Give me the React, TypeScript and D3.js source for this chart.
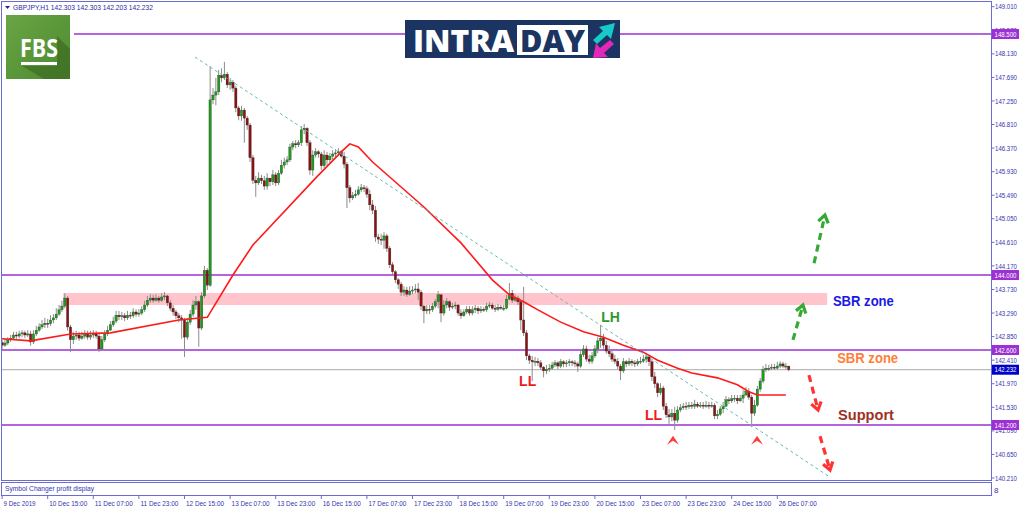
import React from 'react';
import * as d3 from 'd3';

// ---- Data (GBPJPY H1) ----
const closes = [
142.69,142.73,142.79,142.82,142.88,142.86,142.90,142.92,142.88,142.90,
142.75,142.90,142.97,143.03,143.07,143.10,143.09,143.16,143.20,143.27,
143.35,143.42,143.57,143.03,142.79,142.86,142.88,142.82,142.86,142.90,
142.84,142.88,142.90,142.86,142.62,142.79,142.90,142.97,143.07,143.14,
143.25,143.22,143.24,143.20,143.25,143.24,143.31,143.27,143.29,143.35,
143.44,143.53,143.57,143.53,143.57,143.53,143.59,143.61,143.48,143.38,
143.31,143.24,143.20,143.16,142.84,143.12,143.27,143.44,143.50,143.01,
143.61,144.09,143.81,147.27,147.36,147.42,147.73,147.68,147.75,147.55,
147.60,147.49,147.12,146.97,147.08,146.93,146.80,146.19,145.77,145.72,
145.81,145.76,145.66,145.81,145.74,145.87,145.72,145.90,146.05,146.11,
146.15,146.39,146.45,146.43,146.47,146.71,146.74,146.47,145.96,146.24,
146.30,146.26,146.04,146.24,146.15,146.22,146.26,146.28,146.30,146.22,
146.07,145.63,145.44,145.48,145.51,145.59,145.63,145.61,145.51,145.31,
145.21,144.71,144.67,144.65,144.73,144.50,144.19,144.06,143.91,143.83,
143.68,143.72,143.64,143.70,143.72,143.74,143.68,143.42,143.33,143.36,
143.35,143.42,143.50,143.63,143.29,143.44,143.50,143.40,143.42,143.44,
143.29,143.24,143.31,143.36,143.29,143.35,143.38,143.33,143.36,143.35,
143.42,143.44,143.38,143.36,143.40,143.38,143.38,143.55,143.66,143.53,
143.57,143.50,143.16,142.92,142.49,142.41,142.38,142.39,142.36,142.28,
142.21,142.24,142.26,142.32,142.36,142.30,142.38,142.34,142.36,142.38,
142.36,142.34,142.30,142.51,142.62,142.43,142.39,142.49,142.62,142.77,
142.82,142.69,142.58,142.53,142.43,142.39,142.30,142.21,142.38,142.34,
142.39,142.36,142.34,142.38,142.39,142.43,142.47,142.38,142.10,141.97,
141.80,141.89,141.55,141.39,141.35,141.42,141.29,141.48,141.52,141.55,
141.54,141.57,141.55,141.59,141.55,141.57,141.55,141.57,141.55,141.57,
141.37,141.40,141.50,141.55,141.67,141.65,141.69,141.70,141.65,141.70,
141.76,141.83,141.72,141.42,141.57,141.87,142.02,142.23,142.26,142.26,
142.28,142.26,142.30,142.34,142.30,142.30,142.232
];
const highs = [
142.79,142.81,142.84,142.88,142.94,142.94,142.96,142.97,142.96,142.97,
142.96,142.97,143.05,143.10,143.16,143.20,143.18,143.25,143.27,143.38,
143.44,143.52,143.66,143.61,143.07,142.94,142.96,142.94,142.94,142.97,
142.96,142.96,142.97,142.96,142.92,142.86,142.97,143.05,143.14,143.22,
143.33,143.33,143.31,143.29,143.33,143.31,143.38,143.36,143.36,143.42,
143.52,143.61,143.64,143.63,143.64,143.61,143.66,143.68,143.63,143.53,
143.44,143.35,143.29,143.25,143.20,143.20,143.35,143.53,143.61,143.53,
143.68,144.17,144.13,147.90,147.49,147.68,147.83,147.86,147.98,147.79,
147.68,147.64,147.53,147.16,147.16,147.12,146.97,146.84,146.24,145.85,
145.92,145.87,145.85,145.90,145.81,145.96,145.92,145.96,146.15,146.19,
146.22,146.45,146.50,146.52,146.52,146.78,146.82,146.76,146.52,146.33,
146.37,146.33,146.30,146.33,146.30,146.28,146.33,146.35,146.37,146.33,
146.30,146.11,145.68,145.55,145.59,145.66,145.70,145.68,145.66,145.59,
145.40,145.29,144.77,144.77,144.80,144.77,144.54,144.24,144.09,143.94,
143.87,143.79,143.78,143.79,143.79,143.83,143.85,143.72,143.44,143.44,
143.44,143.48,143.55,143.70,143.64,143.53,143.57,143.53,143.48,143.50,
143.46,143.36,143.36,143.42,143.42,143.42,143.44,143.42,143.42,143.40,
143.48,143.50,143.48,143.44,143.46,143.44,143.44,143.63,143.85,143.72,
143.64,143.61,143.53,143.78,142.97,142.53,142.49,142.47,142.45,142.41,
142.30,142.32,142.34,142.38,142.41,142.39,142.43,142.41,142.41,142.43,
142.41,142.41,142.38,142.58,142.69,142.68,142.51,142.56,142.69,142.84,
143.07,142.90,142.77,142.68,142.60,142.51,142.45,142.34,142.45,142.41,
142.45,142.43,142.41,142.43,142.47,142.51,142.54,142.51,142.41,142.19,
142.00,141.98,141.93,141.61,141.50,141.50,141.54,141.55,141.59,141.61,
141.63,141.63,141.63,141.67,141.63,141.63,141.63,141.65,141.63,141.63,
141.61,141.48,141.55,141.63,141.74,141.72,141.76,141.76,141.76,141.76,
141.85,141.91,141.89,141.76,141.67,141.93,142.08,142.30,142.34,142.32,
142.34,142.34,142.38,142.39,142.38,142.36,142.303
];
const lows = [
142.60,142.66,142.69,142.75,142.79,142.81,142.82,142.84,142.82,142.84,
142.68,142.71,142.86,142.94,142.99,143.01,143.01,143.05,143.10,143.16,
143.24,143.31,143.38,142.96,142.56,142.71,142.79,142.77,142.79,142.81,
142.79,142.79,142.82,142.81,142.56,142.58,142.75,142.86,142.96,143.03,
143.10,143.16,143.16,143.14,143.16,143.18,143.20,143.22,143.22,143.25,
143.31,143.40,143.48,143.48,143.50,143.48,143.50,143.53,143.42,143.33,
143.24,143.18,143.12,142.81,142.47,142.79,143.07,143.22,143.35,142.66,
142.97,143.57,143.72,143.78,147.19,147.17,147.36,147.60,147.64,147.49,
147.46,147.42,147.04,146.89,146.88,146.47,146.71,146.11,145.70,145.46,
145.68,145.70,145.59,145.59,145.66,145.68,145.66,145.68,145.87,145.99,
146.05,146.11,146.33,146.37,146.39,146.41,146.63,146.41,145.87,145.85,
146.19,146.19,145.96,145.99,146.04,146.07,146.15,146.20,146.22,146.19,
145.99,145.25,145.35,145.40,145.44,145.48,145.55,145.55,145.44,145.21,
145.14,144.62,144.58,144.56,144.49,144.43,144.13,143.98,143.85,143.74,
143.61,143.61,143.59,143.61,143.64,143.66,143.53,143.35,143.10,143.27,
143.27,143.31,143.38,143.38,143.12,143.24,143.38,143.33,143.36,143.36,
143.24,143.18,143.22,143.27,143.24,143.25,143.29,143.27,143.29,143.31,
143.31,143.38,143.35,143.31,143.33,143.35,143.33,143.36,143.53,143.48,
143.50,143.44,142.97,142.86,142.41,142.34,142.02,142.30,142.30,142.23,
142.09,142.15,142.19,142.23,142.28,142.24,142.26,142.28,142.28,142.30,
142.30,142.28,142.19,142.26,142.47,142.38,142.34,142.34,142.45,142.54,
142.64,142.62,142.53,142.47,142.38,142.34,142.24,142.04,142.17,142.28,
142.30,142.30,142.28,142.30,142.34,142.36,142.36,142.30,142.02,141.89,
141.72,141.76,141.48,141.33,141.20,141.27,141.11,141.24,141.44,141.48,
141.48,141.50,141.50,141.50,141.52,141.52,141.50,141.52,141.50,141.52,
141.31,141.31,141.37,141.42,141.54,141.59,141.61,141.63,141.59,141.63,
141.61,141.74,141.67,141.16,141.37,141.54,141.82,141.98,142.19,142.21,
142.23,142.23,142.24,142.26,142.26,142.24,142.203
];
const firstOpen = 142.74;

// Multi-timeframe moving average (red), read at its vertices
const maIndex = [0, 10, 24, 38, 62, 72, 81, 88, 110, 119, 122, 125, 130, 142, 148, 161, 172, 178, 183, 188, 196, 204, 211, 218, 225, 230, 237, 242, 251, 258, 262, 265, 275];
const maValue = [142.81, 142.77, 142.90, 142.92, 143.16, 143.21, 144.00, 144.56, 145.81, 146.30, 146.45, 146.39, 146.11, 145.55, 145.27, 144.60, 143.91, 143.63, 143.50, 143.35, 143.12, 142.94, 142.84, 142.69, 142.56, 142.41, 142.26, 142.17, 142.08, 141.95, 141.82, 141.76, 141.76];

// Horizontal levels
const levels = [148.5, 144.0, 142.6, 141.2];
const levelStart = [72, 0, 0, 0]; // pixel start offsets of the lines
const bidPrice = 142.232;

// Supply/resistance zone
const zoneIdx = [21.4, 289.5];
const zonePrice = [143.44, 143.664];

// Trend line (bar index, price)
const trendIdx = [67.7, 289.8];
const trendPrice = [148.07, 140.25];

// Price axis tick labels
const priceTicks = ['149.010','148.570','148.130','147.690','147.250','146.810','146.370','145.930','145.490','145.050','144.610','144.170','143.730','143.290','142.850','142.410','141.970','141.530','141.090','140.650','140.210'];

// Time axis labels
const timeLabels = ['9 Dec 2019','10 Dec 15:00','11 Dec 07:00','11 Dec 23:00','12 Dec 15:00','13 Dec 07:00','13 Dec 23:00','16 Dec 15:00','17 Dec 07:00','17 Dec 23:00','18 Dec 15:00','19 Dec 07:00','19 Dec 23:00','20 Dec 15:00','23 Dec 07:00','23 Dec 23:00','24 Dec 15:00','26 Dec 07:00'];
const timeIndex = [0,16,32,48,64,80,96,112,128,144,160,176,192,208,224,240,256,272];

// Annotations
const textLabels = [
  { t: 'LH', i: 210.2, p: 143.13, c: '#2e9a2e' },
  { t: 'LL', i: 181.4, p: 141.93, c: '#ee1c1c' },
  { t: 'LL', i: 225.6, p: 141.30, c: '#ee1c1c' },
];
const sideLabels = [
  { t: 'SBR zone', i: 291.5, p: 143.43, c: '#1a1ae6', w: 61 },
  { t: 'SBR zone', i: 293.0, p: 142.36, c: '#ff7f3a', w: 61 },
  { t: 'Support', i: 293.3, p: 141.29, c: '#a0301f', w: 56 },
];
const arrows = [
  { i0: 284.9, p0: 144.22, i1: 288.7, p1: 145.12, c: '#33aa33' },
  { i0: 277.5, p0: 142.79, i1: 281.0, p1: 143.44, c: '#33aa33' },
  { i0: 283.1, p0: 142.13, i1: 286.3, p1: 141.48, c: '#ff3333' },
  { i0: 287.0, p0: 140.99, i1: 290.5, p1: 140.36, c: '#ff3333' },
];
const upMarks = [235.4, 264.9];
const upMarkPrice = 141.0;

const W = 1024, H = 511;
const plotL = 2, plotR = 991, plotT = 2, plotB = 480;

export default function App() {
  const x = d3.scaleLinear().domain([0, 276]).range([2.1, 2.1 + 2.85 * 276]);
  const y = d3.scaleLinear().domain([140.21, 149.01]).range([478, 6.7]);
  const ma = d3.line<number>().x((d, k) => x(maIndex[k])).y((d) => y(d));
  const axisFont = "'Liberation Sans', Arial, sans-serif";
  const boldFont = "'Liberation Sans', Arial, sans-serif";
  const axisColor = '#3535b0';
  const frame = '#6b6bd6';

  return (
    <svg width={W} height={H} style={{ position: 'absolute', left: 0, top: 0, background: '#fff' }}>
      <defs>
        <linearGradient id="fbsg" x1="0" y1="0" x2="1" y2="1">
          <stop offset="0" stopColor="#69a544" />
          <stop offset="1" stopColor="#4d8a30" />
        </linearGradient>
        <clipPath id="plot"><rect x={plotL} y={plotT} width={plotR - plotL} height={plotB - plotT} /></clipPath>
      </defs>
      <rect x={0} y={0} width={W} height={H} fill="#fff" />
      <g clipPath="url(#plot)">
        <rect x={x(zoneIdx[0])} y={y(zonePrice[1])} width={x(zoneIdx[1]) - x(zoneIdx[0])} height={y(zonePrice[0]) - y(zonePrice[1])} fill="#ffc4cc" />
        <line x1={plotL} x2={plotR} y1={y(bidPrice)} y2={y(bidPrice)} stroke="#a8a8a8" strokeWidth={1} />
        {levels.map((lv, k) => (
          <line key={k} x1={plotL + levelStart[k]} x2={plotR} y1={y(lv)} y2={y(lv)} stroke="#9b30d3" strokeWidth={1.6} />
        ))}
        {closes.map((c, i) => {
          const o = i === 0 ? firstOpen : closes[i - 1];
          const cx = x(i);
          const up = c >= o;
          const top = y(Math.max(o, c));
          const bot = y(Math.min(o, c));
          return (
            <g key={i}>
              <line x1={cx} x2={cx} y1={y(highs[i])} y2={y(lows[i])} stroke="#8c8c8c" strokeWidth={1} />
              <rect x={cx - 1.2} y={top} width={2.4} height={Math.max(1, bot - top)} fill={up ? '#1c9c1c' : '#8b1212'} stroke="#333" strokeWidth={0.3} />
            </g>
          );
        })}
        <path d={ma(maValue) || ''} fill="none" stroke="#ff1a1a" strokeWidth={1.6} />
        <line x1={x(trendIdx[0])} y1={y(trendPrice[0])} x2={x(trendIdx[1])} y2={y(trendPrice[1])} stroke="#63b9b4" strokeWidth={1} strokeDasharray="3,3" />
        {arrows.map((a, k) => {
          const x0 = x(a.i0), y0 = y(a.p0), x1 = x(a.i1), y1 = y(a.p1);
          const ang = Math.atan2(y1 - y0, x1 - x0);
          const hl = 9;
          const hx1 = x1 - hl * Math.cos(ang - 0.6), hy1 = y1 - hl * Math.sin(ang - 0.6);
          const hx2 = x1 - hl * Math.cos(ang + 0.6), hy2 = y1 - hl * Math.sin(ang + 0.6);
          return (
            <g key={k} stroke={a.c} strokeWidth={3.2} fill="none">
              <line x1={x0} y1={y0} x2={x1 - 2 * Math.cos(ang)} y2={y1 - 2 * Math.sin(ang)} strokeDasharray="7,5" />
              <polyline points={`${hx1},${hy1} ${x1},${y1} ${hx2},${hy2}`} />
            </g>
          );
        })}
        {upMarks.map((i, k) => {
          const cx = x(i), cy = y(upMarkPrice);
          return <polygon key={k} points={`${cx},${cy} ${cx + 6},${cy + 9} ${cx},${cy + 5} ${cx - 6},${cy + 9}`} fill="#ff3c3c" />;
        })}
        {textLabels.map((l, k) => (
          <text key={k} x={x(l.i)} y={y(l.p)} fill={l.c} fontFamily={boldFont} fontWeight="bold" fontSize={14}>{l.t}</text>
        ))}
        {sideLabels.map((l, k) => (
          <text key={k} x={x(l.i)} y={y(l.p)} fill={l.c} fontFamily={boldFont} fontWeight="bold" fontSize={15} textLength={l.w} lengthAdjust="spacingAndGlyphs">{l.t}</text>
        ))}
      </g>

      <rect x={plotL - 0.5} y={plotT - 0.5} width={plotR - plotL + 1} height={plotB - plotT + 1} fill="none" stroke={frame} strokeWidth={1} />
      <rect x={plotL - 0.5} y={482.5} width={plotR - plotL + 1} height={13} fill="none" stroke={frame} strokeWidth={1} />
      <text x={5} y={491} fontFamily={axisFont} fontSize={7.5} fill={axisColor} textLength={89} lengthAdjust="spacingAndGlyphs">Symbol Changer profit display</text>
      <text x={994} y={493} fontFamily={axisFont} fontSize={8} fill={axisColor}>8</text>

      <polygon points="5,6 10,6 7.5,9" fill="#23238f" />
      <text x={13} y={10} fontFamily={axisFont} fontSize={7.5} fill="#2a2aa0" textLength={140} lengthAdjust="spacingAndGlyphs">GBPJPY,H1  142.303 142.303 142.203 142.232</text>

      {priceTicks.map((t, k) => {
        const yy = y(+t);
        return (
          <g key={k}>
            <line x1={plotR + 0.5} x2={plotR + 3.5} y1={yy} y2={yy} stroke={frame} />
            <text x={995} y={yy + 2.6} fontFamily={axisFont} fontSize={7} fill={axisColor} textLength={22} lengthAdjust="spacingAndGlyphs">{t}</text>
          </g>
        );
      })}
      {levels.map((lv, k) => (
        <g key={k}>
          <rect x={992} y={y(lv) - 5} width={27} height={10} fill="#9b30d3" />
          <text x={994.5} y={y(lv) + 2.6} fontFamily={axisFont} fontSize={7} fill="#fff" textLength={22} lengthAdjust="spacingAndGlyphs">{lv.toFixed(3)}</text>
        </g>
      ))}
      <rect x={992} y={y(bidPrice) - 5} width={27} height={10} fill="#0000c8" />
      <text x={994.5} y={y(bidPrice) + 2.6} fontFamily={axisFont} fontSize={7} fill="#fff" textLength={22} lengthAdjust="spacingAndGlyphs">{bidPrice.toFixed(3)}</text>

      {timeLabels.map((t, k) => {
        const xx = x(timeIndex[k]);
        return (
          <g key={k}>
            <line x1={xx} x2={xx} y1={496} y2={499} stroke={frame} />
            <text x={xx + 1.5} y={506} fontFamily={axisFont} fontSize={7.5} fill={axisColor} textLength={k === 0 ? 32 : 38} lengthAdjust="spacingAndGlyphs">{t}</text>
          </g>
        );
      })}

      <rect x={6} y={15} width={64} height={64} fill="url(#fbsg)" />
      <polygon points="57,36 70,49 70,79 44,79 22,66 57,66" fill="#3f6e24" opacity={0.75} />
      <text x={20} y={57} fontFamily="'Open Sans', Arial, sans-serif" fontWeight="bold" fontSize={25} fill="#fff" textLength={38} lengthAdjust="spacingAndGlyphs">FBS</text>
      <rect x={21} y={62} width={36} height={3} fill="#fff" />

      <rect x={405} y={20} width={215} height={38} fill="#1c3461" />
      <text x={413} y={52} fontFamily="'Open Sans', Arial, sans-serif" fontWeight="800" fontSize={30} fill="#fff" textLength={101} lengthAdjust="spacingAndGlyphs">INTRA</text>
      <rect x={517} y={25} width={71} height={30} fill="#fff" />
      <text x={520} y={52} fontFamily="'Open Sans', Arial, sans-serif" fontWeight="800" fontSize={30} fill="#1c3461" textLength={65} lengthAdjust="spacingAndGlyphs">DAY</text>
      <polygon points="597,44 593,40 603,31 599,27 615,23 611,39 607,35" fill="#17c9c9" />
      <polygon points="610,40 614,44 604,53 608,57 593,58 596,43 600,48" fill="#e327b8" />
    </svg>
  );
}
